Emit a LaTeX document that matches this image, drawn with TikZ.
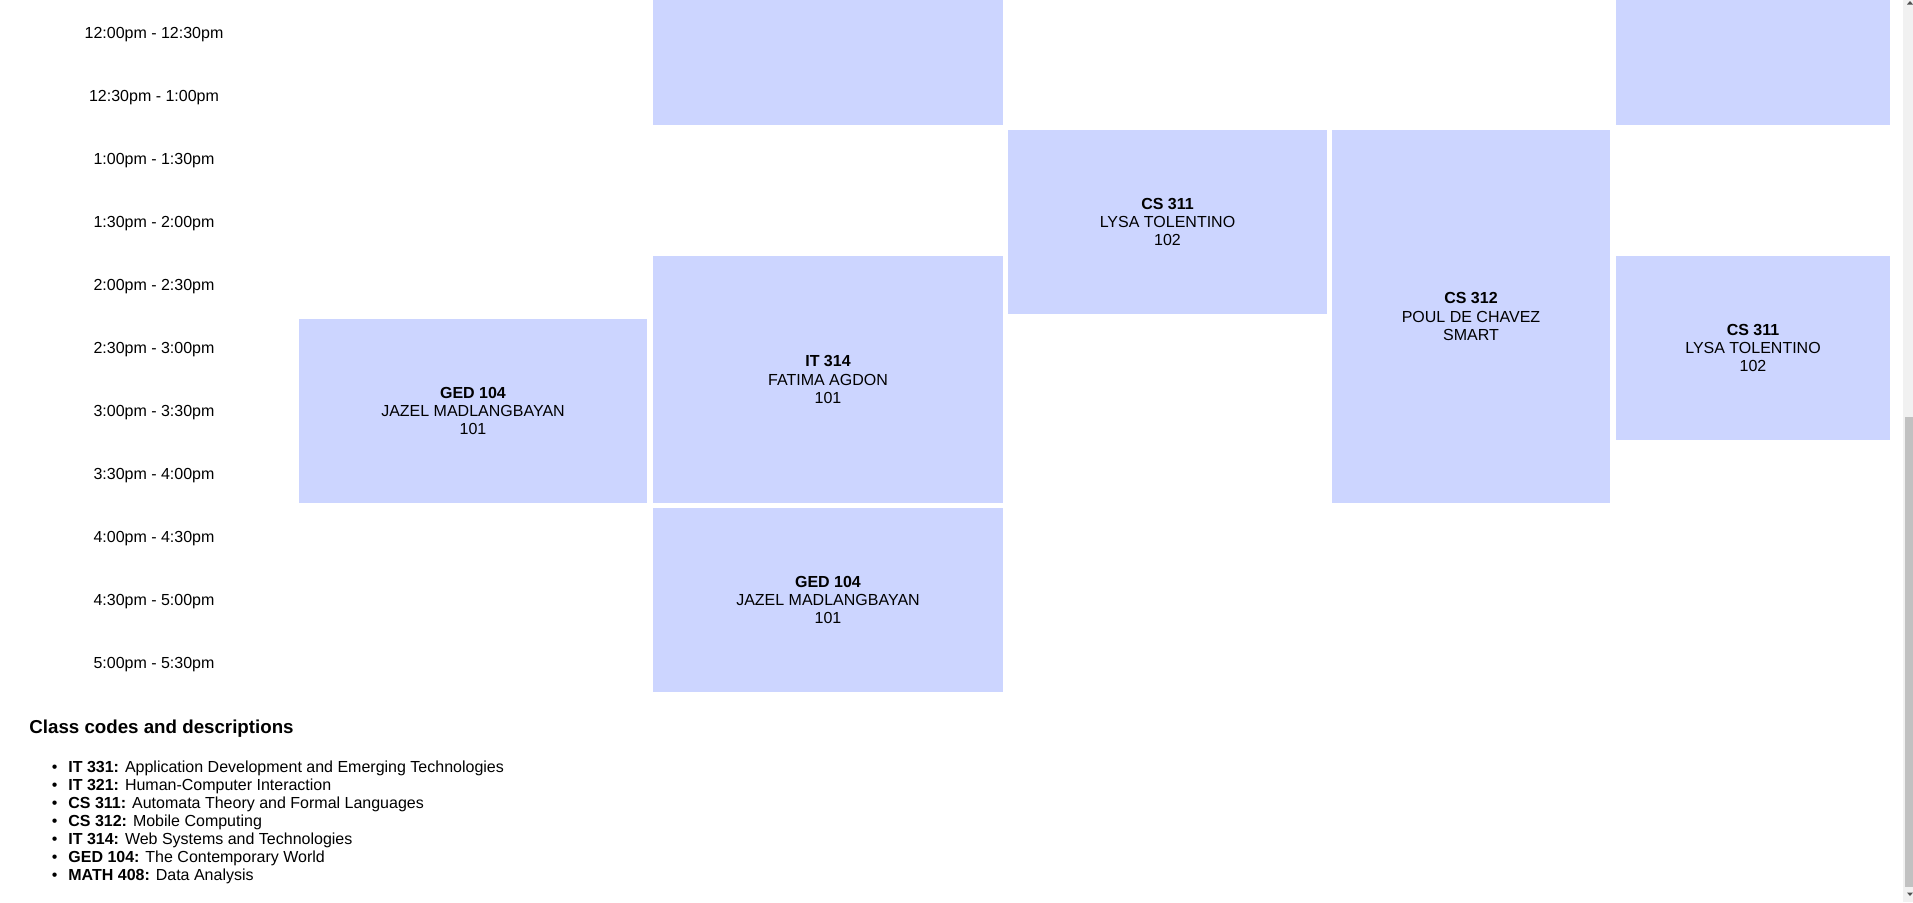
\documentclass[tikz,border=0pt]{standalone}
\usepackage{fontspec}
\setmainfont{Liberation Sans}
\usepackage{tikz}
\usetikzlibrary{positioning}
\definecolor{slotblue}{RGB}{204,213,255}
\definecolor{bartrack}{RGB}{241,241,241}
\definecolor{barthumb}{RGB}{193,193,193}
\definecolor{bararrow}{RGB}{80,80,80}
\tikzset{
  timelabel/.style={anchor=base, inner sep=0pt, font=\fontsize{8}{9.2}\selectfont},
  classbox/.style={fill=slotblue, inner sep=0pt, align=center, font=\fontsize{8}{9.2}\selectfont},
  listitem/.style={anchor=base west, inner sep=0pt, font=\fontsize{8}{9.2}\selectfont}
}

\begin{document}
\begin{tikzpicture}[x=0.5pt,y=-0.5pt]
        % Page area
        \useasboundingbox (0,0) rectangle (1913,902);
        \fill[white] (0,0) rectangle (1913,902);
        % Time column
        \node[timelabel] (t1200) at (154, 38.3) {12:00pm - 12:30pm};
        \node[timelabel] (t1230) at (154, 101.3) {12:30pm - 1:00pm};
        \node[timelabel] (t0100) at (154, 164.3) {1:00pm - 1:30pm};
        \node[timelabel] (t0130) at (154, 227.3) {1:30pm - 2:00pm};
        \node[timelabel] (t0200) at (154, 290.3) {2:00pm - 2:30pm};
        \node[timelabel] (t0230) at (154, 353.3) {2:30pm - 3:00pm};
        \node[timelabel] (t0300) at (154, 416.3) {3:00pm - 3:30pm};
        \node[timelabel] (t0330) at (154, 479.3) {3:30pm - 4:00pm};
        \node[timelabel] (t0400) at (154, 542.3) {4:00pm - 4:30pm};
        \node[timelabel] (t0430) at (154, 605.3) {4:30pm - 5:00pm};
        \node[timelabel] (t0500) at (154, 668.3) {5:00pm - 5:30pm};
        % Class slots (sizes in pt, centres in px)
        \node[classbox, minimum width=175pt, minimum height=62.5pt] (topB) at (828, 62.5) {};
        \node[classbox, minimum width=137pt, minimum height=62.5pt] (topE) at (1753, 62.5) {};
        \node[classbox, minimum width=174pt, minimum height=92pt] (gedA) at (473, 411)
          {\textbf{GED 104}\\JAZEL MADLANGBAYAN\\101};
        \node[classbox, minimum width=175pt, minimum height=123.5pt] (itB) at (828, 379.5)
          {\textbf{IT 314}\\FATIMA AGDON\\101};
        \node[classbox, minimum width=175pt, minimum height=92pt] (gedB) at (828, 600)
          {\textbf{GED 104}\\JAZEL MADLANGBAYAN\\101};
        \node[classbox, minimum width=159.5pt, minimum height=92pt] (csC) at (1167.5, 222)
          {\textbf{CS 311}\\LYSA TOLENTINO\\102};
        \node[classbox, minimum width=139pt, minimum height=186.5pt] (csD) at (1471, 316.5)
          {\textbf{CS 312}\\POUL DE CHAVEZ\\SMART};
        \node[classbox, minimum width=137pt, minimum height=92pt] (csE) at (1753, 348)
          {\textbf{CS 311}\\LYSA TOLENTINO\\102};
        % Legend
        \node[anchor=base west, inner sep=0pt, font=\fontsize{9.36}{11}\selectfont\bfseries] (legend) at (29, 733.3)
          {Class codes and descriptions};
        \node[listitem] (codeA) at (68, 772.7) {\llap{•\hspace{5.5pt}}\textbf{IT 331:} Application Development and Emerging Technologies};
        \node[listitem] (codeB) at (68, 790.6) {\llap{•\hspace{5.5pt}}\textbf{IT 321:} Human-Computer Interaction};
        \node[listitem] (codeC) at (68, 808.5) {\llap{•\hspace{5.5pt}}\textbf{CS 311:} Automata Theory and Formal Languages};
        \node[listitem] (codeD) at (68, 826.4) {\llap{•\hspace{5.5pt}}\textbf{CS 312:} Mobile Computing};
        \node[listitem] (codeE) at (68, 844.3) {\llap{•\hspace{5.5pt}}\textbf{IT 314:} Web Systems and Technologies};
        \node[listitem] (codeF) at (68, 862.2) {\llap{•\hspace{5.5pt}}\textbf{GED 104:} The Contemporary World};
        \node[listitem] (codeG) at (68, 880.1) {\llap{•\hspace{5.5pt}}\textbf{MATH 408:} Data Analysis};
        % Scroll bar
        \fill[bartrack] (1903,0) rectangle (1913,902);
        \fill[barthumb] (1905,417) rectangle (1913,887);
        \fill[bararrow] (1907,4.5) -- (1913,4.5) -- (1910,1) -- cycle;
        \fill[bararrow] (1907,892.5) -- (1913,892.5) -- (1910,896) -- cycle;
      \end{tikzpicture}
\end{document}
